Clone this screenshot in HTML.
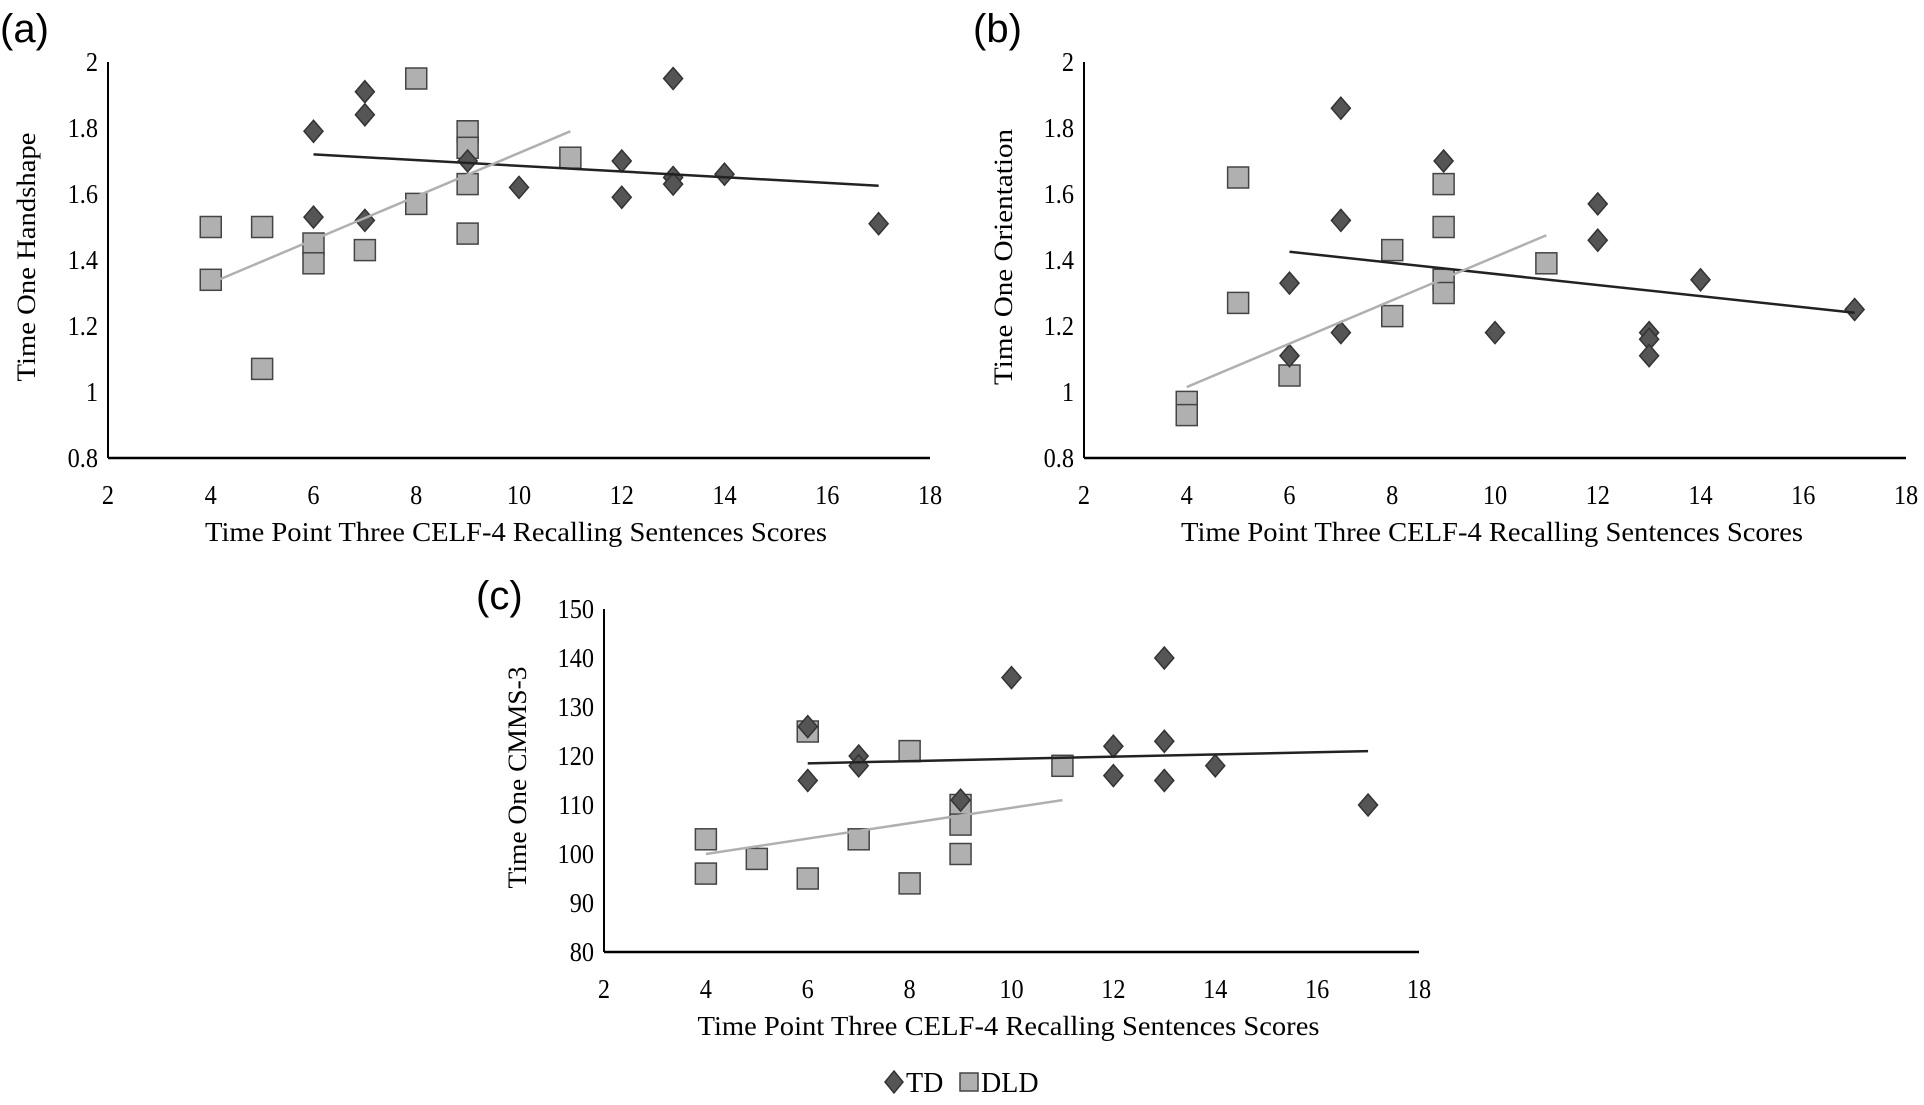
<!DOCTYPE html>
<html><head><meta charset="utf-8"><style>
body{margin:0;background:#fff;}
svg{display:block;font-family:"Liberation Serif",serif;}
</style></head><body>
<svg id="fig" width="1924" height="1105" viewBox="0 0 1924 1105" xmlns="http://www.w3.org/2000/svg">
<text x="0" y="42" font-family="Liberation Sans,sans-serif" font-size="40">(a)</text>
<text x="973" y="42" font-family="Liberation Sans,sans-serif" font-size="40">(b)</text>
<text x="476" y="609" font-family="Liberation Sans,sans-serif" font-size="40">(c)</text>
<g>
<path d="M894,1071 L903,1082 L894,1093 L885,1082 Z" fill="#555" stroke="#333" stroke-width="1.5"/>
<text x="906" y="1092" font-size="28">TD</text>
<rect x="960" y="1073" width="18" height="18" fill="#b0b0b0" stroke="#444" stroke-width="1.5"/>
<text x="981" y="1092" font-size="28">DLD</text>
</g>
</svg>
<script>
const xTicks = [2,4,6,8,10,12,14,16,18];
const yTicksA = [0.8,1,1.2,1.4,1.6,1.8,2];
const yTicksB = [0.8,1,1.2,1.4,1.6,1.8,2];
const yTicksC = [80,90,100,110,120,130,140,150];
const tdXA = [6,6,7,7,7,9,10,12,12,13,13,13,14,17];
const tdYA = [1.79,1.53,1.91,1.84,1.52,1.70,1.62,1.70,1.59,1.95,1.65,1.63,1.66,1.51];
const dldXA = [4,4,5,5,6,6,7,8,8,9,9,9,9,11];
const dldYA = [1.50,1.34,1.50,1.07,1.45,1.39,1.43,1.95,1.57,1.79,1.74,1.63,1.48,1.71];
const tdXB = [6,6,7,7,7,9,10,12,12,13,13,13,14,17];
const tdYB = [1.33,1.11,1.86,1.52,1.18,1.70,1.18,1.57,1.46,1.18,1.16,1.11,1.34,1.25];
const dldXB = [4,4,5,5,6,8,8,9,9,9,9,11];
const dldYB = [0.97,0.93,1.65,1.27,1.05,1.43,1.23,1.63,1.50,1.34,1.30,1.39];
const tdXC = [6,6,7,7,9,10,12,12,13,13,13,14,17];
const tdYC = [126,115,120,118,111,136,122,116,140,123,115,118,110];
const dldXC = [4,4,5,6,6,7,8,8,9,9,9,11];
const dldYC = [103,96,99,125,95,103,121,94,110,106,100,118];
// trendline values at start / end x
const tdTrendA = [1.72,1.625];
const dldTrendA = [1.33,1.79];
const tdTrendB = [1.425,1.24];
const dldTrendB = [1.015,1.475];
const tdTrendC = [118.5,121];
const dldTrendC = [100,111];

const NS='http://www.w3.org/2000/svg';
const svg=document.getElementById('fig');
function mk(tag,attrs,parent){const e=document.createElementNS(NS,tag);for(const k in attrs)e.setAttribute(k,attrs[k]);(parent||svg).appendChild(e);return e;}

function panel(p){
  const g=mk('g',{});
  
  
  const yMin=p.yTicks[0],yMax=p.yTicks[p.yTicks.length-1];
  const X=v=>p.left+(v-2)/(18-2)*(p.right-p.left);
  const Y=v=>p.bottom-(v-yMin)/(yMax-yMin)*(p.bottom-p.top);
  const ya=mk('line',{x1:p.left,y1:p.top,x2:p.left,y2:p.bottom,stroke:'#000','stroke-width':2},g);
  
  
  const xa=mk('line',{x1:p.left,y1:p.bottom,x2:p.right,y2:p.bottom,stroke:'#000','stroke-width':2.5},g);
  
  
  p.yTicks.forEach(v=>{const t=mk('text',{x:p.left-10,y:Y(v)+9,'text-anchor':'end','font-size':27,transform:`translate(${p.left-10},0) scale(0.9,1) translate(${-(p.left-10)},0)`},g);t.textContent=String(v);
    
    });
  xTicks.forEach(v=>{const t=mk('text',{x:X(v),y:p.bottom+46,'text-anchor':'middle','font-size':27,transform:`translate(${X(v)},0) scale(0.9,1) translate(${-X(v)},0)`},g);t.textContent=String(v);
    
    });
  const xt=mk('text',{x:(p.left+p.right)/2-3,y:p.bottom+83,'text-anchor':'middle','font-size':27,textLength:622,lengthAdjust:'spacingAndGlyphs'},g);
  xt.textContent='Time Point Three CELF-4 Recalling Sentences Scores';
  
  
  const cy=(p.top+p.bottom)/2-3;
  const yt=mk('text',{x:0,y:0,'text-anchor':'middle','font-size':26,textLength:p.ytLen,lengthAdjust:'spacingAndGlyphs',transform:`translate(${p.ytX},${cy}) rotate(-90)`},g);
  yt.textContent=p.ytitle;
  
  
  p.dx.forEach((x,i)=>{const r=mk('rect',{x:X(x)-10.5,y:Y(p.dy[i])-10.5,width:21,height:21,fill:'#b0b0b0',stroke:'#444','stroke-width':1.5},g);
    
    });
  p.tx.forEach((x,i)=>{const cx=X(x),cyy=Y(p.ty[i]);const d=mk('path',{d:`M${cx},${cyy-11} L${cx+9.5},${cyy} L${cx},${cyy+11} L${cx-9.5},${cyy} Z`,fill:'#555',stroke:'#333','stroke-width':1.5},g);
    
    });
  const x0=Math.min(...p.tx),x1=Math.max(...p.tx);
  const l1=mk('line',{x1:X(x0),y1:Y(p.tt[0]),x2:X(x1),y2:Y(p.tt[1]),stroke:'#222','stroke-width':2.5},g);
  
  
  const u0=Math.min(...p.dx),u1=Math.max(...p.dx);
  const l2=mk('line',{x1:X(u0),y1:Y(p.dt[0]),x2:X(u1),y2:Y(p.dt[1]),stroke:'#b0b0b0','stroke-width':2.5},g);
  
  
}
panel({name:'panel-a-handshape',left:108,right:930,top:62,bottom:458,yTicks:yTicksA,tx:tdXA,ty:tdYA,dx:dldXA,dy:dldYA,tt:tdTrendA,dt:dldTrendA,ytitle:'Time One Handshape',ytX:35,ytLen:249});
panel({name:'panel-b-orientation',left:1084,right:1906,top:62,bottom:458,yTicks:yTicksB,tx:tdXB,ty:tdYB,dx:dldXB,dy:dldYB,tt:tdTrendB,dt:dldTrendB,ytitle:'Time One Orientation',ytX:1012,ytLen:256});
panel({name:'panel-c-cmms',left:604,right:1419,top:609,bottom:952,yTicks:yTicksC,tx:tdXC,ty:tdYC,dx:dldXC,dy:dldYC,tt:tdTrendC,dt:dldTrendC,ytitle:'Time One CMMS-3',ytX:526,ytLen:222});
</script>
</body></html>
